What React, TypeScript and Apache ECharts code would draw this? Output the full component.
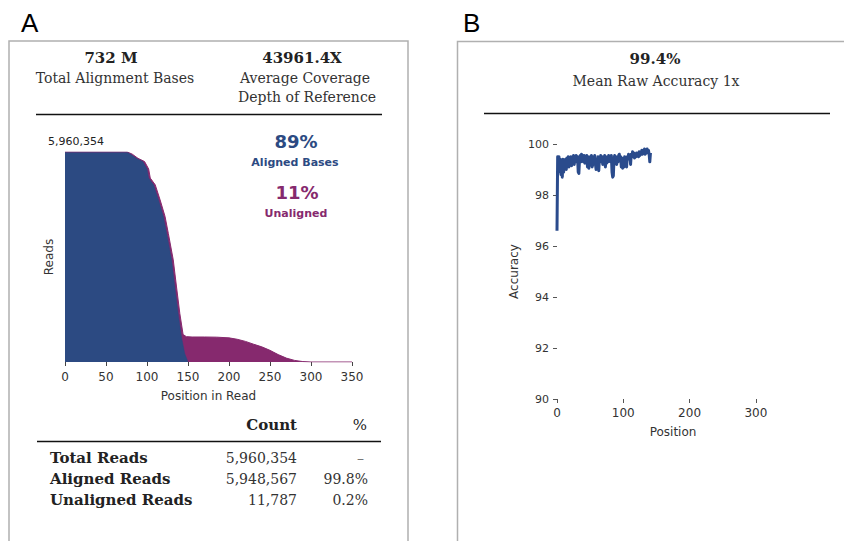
import React, { useEffect, useRef } from "react";
import * as echarts from "echarts";

// ---- Panel A: reads coverage by position ----
const maxReads = 5960354;
const totalPositions = [0, 76, 82, 89, 97, 102, 104, 110, 116, 122, 126, 132, 136, 140, 144, 148, 155, 170, 185, 200, 210, 220, 230, 240, 250, 260, 270, 280, 290, 300, 350];
const totalReads = [5960354, 5960354, 5900000, 5780000, 5690000, 5480000, 5220000, 5030000, 4600000, 4130000, 3650000, 2900000, 2130000, 1380000, 780000, 720000, 710000, 710000, 705000, 685000, 645000, 585000, 505000, 430000, 330000, 210000, 110000, 45000, 12000, 0, 0];
const alignedPositions = [0, 75, 80, 87, 95, 100, 102, 108, 114, 120, 124, 130, 134, 138, 142, 146, 150];
const alignedReads = [5960354, 5960354, 5900000, 5780000, 5690000, 5480000, 5220000, 5030000, 4600000, 4130000, 3650000, 2900000, 2130000, 1380000, 710000, 240000, 0];

const headerA = [
  { value: "732 M", label: ["Total Alignment Bases"] },
  { value: "43961.4X", label: ["Average Coverage", "Depth of Reference"] },
];
const tableHeader = ["Count", "%"];
const tableRows = ["Total Reads", "Aligned Reads", "Unaligned Reads"];
const tableCounts = ["5,960,354", "5,948,567", "11,787"];
const tablePct = ["\u2013", "99.8%", "0.2%"];

// ---- Panel B: accuracy by position ----
const accuracy = [
  96.6, 99.5, 98.9, 99.5, 99.0, 99.4, 98.8, 99.3, 98.7, 99.4,
  98.9, 99.3, 99.1, 99.4, 99.0, 99.45, 99.2, 99.5, 99.1, 99.45,
  99.2, 99.5, 99.15, 99.5, 99.3, 99.55, 99.2, 99.5, 99.3, 99.55,
  99.35, 99.5, 98.9, 98.85, 99.4, 99.55, 99.3, 99.6, 99.35, 99.55,
  99.3, 99.55, 99.25, 99.5, 99.35, 99.55, 99.1, 99.5, 99.05, 99.3,
  99.5, 99.3, 99.55, 99.1, 99.2, 99.5, 99.3, 99.55, 99.2, 99.0,
  99.4, 99.05, 99.5, 98.95, 99.45, 99.3, 99.55, 99.35, 99.5, 99.2,
  99.5, 99.3, 99.55, 99.1, 99.45, 99.25, 99.5, 99.3, 99.55, 99.35,
  99.5, 99.3, 99.55, 98.9, 98.7, 98.75, 99.4, 99.55, 99.3, 99.5,
  99.2, 99.45, 99.3, 99.55, 99.6, 99.4, 99.5, 99.1, 99.45, 99.05,
  99.4, 99.1, 99.5, 99.3, 99.45, 99.1, 99.5, 99.4, 99.6, 99.45,
  99.55, 99.2, 99.6, 99.5, 99.7, 99.5, 99.65, 99.45, 99.6, 99.5,
  99.65, 99.55, 99.6, 99.5, 99.7, 99.55, 99.7, 99.6, 99.75, 99.6,
  99.75, 99.65, 99.8, 99.6, 99.75, 99.65, 99.8, 99.7, 99.75, 99.6,
  99.3, 99.65,
];
const headerB = { value: "99.4%", label: "Mean Raw Accuracy 1x" };

const BLUE = "#2c4a82";
const PURPLE = "#86296e";
const LINE_BLUE = "#2a4b8c";
const SERIF = "DejaVu Serif";
const SANS = "DejaVu Sans";

export default function App() {
  const ref = useRef<HTMLDivElement>(null);
  useEffect(() => {
    document.body.style.margin = "0";
    if (!ref.current) return;
    const chart = echarts.init(ref.current, undefined, { renderer: "svg" });

    const txt = (text: string, x: number, y: number, font: string, fill = "#222", align = "center") => ({
      type: "text",
      style: { text, x, y, font, fill, textAlign: align, textVerticalAlign: "middle" },
      silent: true,
    });

    const graphics: any[] = [
      { type: "rect", shape: { x: 9, y: 41, width: 399, height: 520 }, style: { fill: "none", stroke: "#b0b0b0", lineWidth: 1.5 } },
      { type: "rect", shape: { x: 457.5, y: 41.5, width: 420, height: 520 }, style: { fill: "none", stroke: "#b0b0b0", lineWidth: 1.5 } },
      txt("A", 21, 23, `26px "Liberation Sans"`, "#000", "left"),
      txt("B", 463, 23, `26px "Liberation Sans"`, "#000", "left"),
      txt(headerA[0].value, 111, 58, `bold 15px "${SERIF}"`),
      txt(headerA[0].label[0], 115, 78, `14px "${SERIF}"`, "#333"),
      txt(headerA[1].value, 302, 58, `bold 15px "${SERIF}"`),
      txt(headerA[1].label[0], 305, 78, `14px "${SERIF}"`, "#333"),
      txt(headerA[1].label[1], 307, 97, `14px "${SERIF}"`, "#333"),
      { type: "line", shape: { x1: 36, y1: 114.5, x2: 382, y2: 114.5 }, style: { stroke: "#111", lineWidth: 1.6 } },
      txt("5,960,354", 48, 141, `11px "${SANS}"`, "#222", "left"),
      txt("89%", 296, 141, `bold 18px "${SANS}"`, BLUE),
      txt("Aligned Bases", 295, 162, `bold 11px "${SANS}"`, BLUE),
      txt("11%", 297, 192, `bold 18px "${SANS}"`, PURPLE),
      txt("Unaligned", 296, 213, `bold 11px "${SANS}"`, PURPLE),
      txt(tableHeader[0], 297, 425, `bold 15px "${SERIF}"`, "#222", "right"),
      txt(tableHeader[1], 367, 425, `15px "${SERIF}"`, "#222", "right"),
      { type: "line", shape: { x1: 37, y1: 441.5, x2: 381, y2: 441.5 }, style: { stroke: "#111", lineWidth: 1.4 } },
      txt(headerB.value, 655, 59, `bold 15px "${SERIF}"`),
      txt(headerB.label, 656, 81, `14px "${SERIF}"`, "#333"),
      { type: "line", shape: { x1: 484, y1: 113.5, x2: 830, y2: 113.5 }, style: { stroke: "#111", lineWidth: 1.6 } },
    ];
    const rowY = [458, 479, 500];
    tableRows.forEach((r, i) => {
      graphics.push(txt(r, 50, rowY[i], `bold 15px "${SERIF}"`, "#222", "left"));
      graphics.push(txt(tableCounts[i], 297, rowY[i], `14px "${SERIF}"`, "#333", "right"));
      graphics.push(txt(tablePct[i], i === 0 ? 364 : 368, rowY[i], `14px "${SERIF}"`, i === 0 ? "#777" : "#333", "right"));
    });

    const axisLabelStyle = { color: "#333", fontSize: 12, fontFamily: SANS };

    chart.setOption({
      animation: false,
      graphic: graphics,
      grid: [
        { left: 65, top: 152, width: 287, height: 210 },
        { left: 557, top: 144, width: 232, height: 255 },
      ],
      xAxis: [
        {
          gridIndex: 0, type: "value", min: 0, max: 350, interval: 50,
          axisLine: { show: false },
          axisTick: { show: true, length: 4, lineStyle: { color: "#444" } },
          splitLine: { show: false },
          axisLabel: { ...axisLabelStyle, margin: 9 },
          name: "Position in Read", nameLocation: "middle", nameGap: 28,
          nameTextStyle: axisLabelStyle,
        },
        {
          gridIndex: 1, type: "value", min: 0, max: 350, interval: 100,
          axisLine: { show: false },
          axisTick: { show: true, length: 4, lineStyle: { color: "#555" } },
          splitLine: { show: false },
          axisLabel: { ...axisLabelStyle, margin: 8, showMaxLabel: false },
          name: "Position", nameLocation: "middle", nameGap: 27,
          nameTextStyle: axisLabelStyle,
        },
      ],
      yAxis: [
        {
          gridIndex: 0, type: "value", min: 0, max: maxReads,
          axisLine: { show: false }, axisTick: { show: false }, axisLabel: { show: false },
          splitLine: { show: false },
          name: "Reads", nameLocation: "middle", nameGap: 10, nameRotate: 90,
          nameTextStyle: axisLabelStyle,
        },
        {
          gridIndex: 1, type: "value", min: 90, max: 100, interval: 2,
          axisLine: { show: false },
          axisTick: { show: true, length: 4, lineStyle: { color: "#555" } },
          splitLine: { show: false },
          axisLabel: { ...axisLabelStyle, fontSize: 11, margin: 8 },
          name: "Accuracy", nameLocation: "middle", nameGap: 37, nameRotate: 90,
          nameTextStyle: axisLabelStyle,
        },
      ],
      series: [
        {
          type: "line", xAxisIndex: 0, yAxisIndex: 0, showSymbol: false, symbol: "none",
          data: totalPositions.map((p, i) => [p, totalReads[i]]),
          lineStyle: { color: PURPLE, width: 1 },
          areaStyle: { color: PURPLE, opacity: 1 },
          silent: true,
        },
        {
          type: "line", xAxisIndex: 0, yAxisIndex: 0, showSymbol: false, symbol: "none",
          data: alignedPositions.map((p, i) => [p, alignedReads[i]]),
          lineStyle: { color: BLUE, width: 0.5 },
          areaStyle: { color: BLUE, opacity: 1 },
          silent: true,
        },
        {
          type: "line", xAxisIndex: 1, yAxisIndex: 1, showSymbol: false, symbol: "none",
          data: accuracy.map((v, i) => [i, v]),
          lineStyle: { color: LINE_BLUE, width: 3, join: "round" },
          silent: true,
        },
      ],
    });
    return () => chart.dispose();
  }, []);
  return <div ref={ref} style={{ width: 844, height: 541 }} />;
}
